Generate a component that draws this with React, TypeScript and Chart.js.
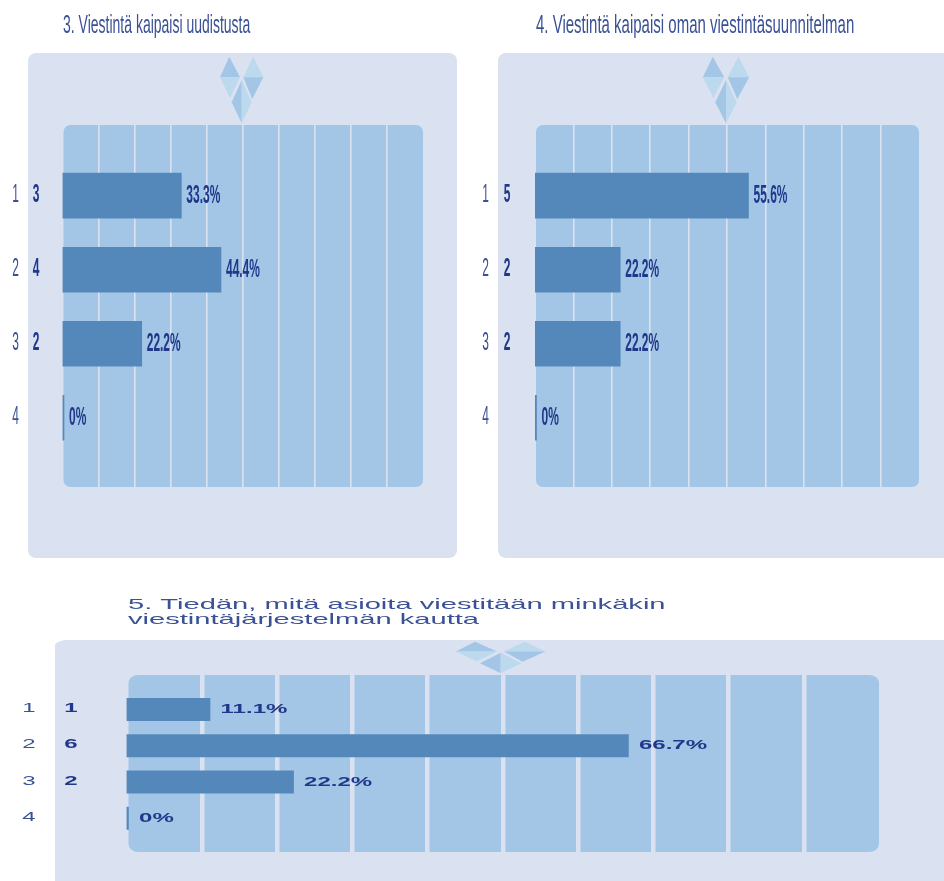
import React, { useEffect, useRef } from "react";
import { Chart, registerables } from "chart.js";

Chart.register(...registerables);

const rows = [1, 2, 3, 4];

const countsQ3 = [3, 4, 2, 0];
const percentQ3 = [33.3, 44.4, 22.2, 0];
const titleQ3 = ["3. Viestintä kaipaisi uudistusta"];

const countsQ4 = [5, 2, 2, 0];
const percentQ4 = [55.6, 22.2, 22.2, 0];
const titleQ4 = ["4. Viestintä kaipaisi oman viestintäsuunnitelman"];

const countsQ5 = [1, 6, 2, 0];
const percentQ5 = [11.1, 66.7, 22.2, 0];
const titleQ5 = ["5. Tiedän, mitä asioita viestitään minkäkin", "viestintäjärjestelmän kautta"];

const PAGE_W = 944;
const PAGE_H = 881;
const FONT = '"Liberation Sans"';
const PANEL = "#DAE1F0";
const PLOT = "#A3C6E7";
const BAR = "#5488BA";
const INK = "#21388A";
const INK_SOFT = "#3A5196";

type Card = {
  counts: number[];
  percent: number[];
  title: string[];
  panel: [number, number, number, number];
  panelRadius: { x: number; y: number };
  area: { left: number; right: number; top: number; bottom: number };
  plotInset: number;
  plotRadius: { x: number; y: number };
  barMax: number;
  barThickness: number;
  gridWidth: number;
  minBar: number;
  titleX: number;
  titleY: number;
  titleFont: string;
  titleScale: number;
  titleLead: number;
  rowX: number;
  countX: number;
  labelGap: number;
  labelSize: number;
  labelScale: number;
  percentShift: number;
  gem: { cx: number; top: number; sx: number; sy: number };
};

const narrow = {
  panelRadius: { x: 8, y: 8 },
  plotRadius: { x: 7, y: 7 },
  plotInset: 1,
  barThickness: 45,
  gridWidth: 1.6,
  minBar: 1.5,
  titleY: 26,
  titleFont: `25px ${FONT}`,
  titleLead: 0,
  labelGap: 5,
  labelSize: 26,
  labelScale: 0.46,
  percentShift: 0.5,
};

const cards: Card[] = [
  {
    ...narrow,
    counts: countsQ3,
    percent: percentQ3,
    title: titleQ3,
    panel: [28, 53, 429, 505],
    area: { left: 62.5, right: 423, top: 125, bottom: 487 },
    barMax: 101,
    titleX: 63,
    titleScale: 0.56,
    rowX: 15.5,
    countX: 36,
    gem: { cx: 241.7, top: 56.7, sx: 1, sy: 1 },
  },
  {
    ...narrow,
    counts: countsQ4,
    percent: percentQ4,
    title: titleQ4,
    panel: [498, 53, 470, 505],
    area: { left: 535, right: 919, top: 125, bottom: 487 },
    barMax: 100,
    titleX: 536,
    titleScale: 0.6,
    rowX: 485.5,
    countX: 507,
    gem: { cx: 726, top: 56.7, sx: 1.07, sy: 1 },
  },
  {
    counts: countsQ5,
    percent: percentQ5,
    title: titleQ5,
    panel: [55, 640, 910, 270],
    panelRadius: { x: 12, y: 6 },
    area: { left: 126.5, right: 879, top: 675, bottom: 852 },
    barMax: 100,
    plotInset: 2,
    plotRadius: { x: 10, y: 8 },
    barThickness: 22.4,
    gridWidth: 4.5,
    minBar: 2,
    titleX: 128,
    titleY: 605,
    titleFont: `15px ${FONT}`,
    titleScale: 1.94,
    titleLead: 15,
    rowX: 29,
    countX: 71,
    labelGap: 10.5,
    labelSize: 13,
    labelScale: 1.85,
    percentShift: 0,
    gem: { cx: 500.7, top: 641.7, sx: 2.07, sy: 0.475 },
  },
];

// Draws one run of text squeezed or widened along x only.
function stretchedText(
  ctx: CanvasRenderingContext2D,
  text: string,
  x: number,
  y: number,
  font: string,
  color: string,
  sx: number,
  align: CanvasTextAlign = "left",
) {
  ctx.save();
  ctx.translate(x, y);
  ctx.scale(sx, 1);
  ctx.font = font;
  ctx.fillStyle = color;
  ctx.textAlign = align;
  ctx.textBaseline = "middle";
  ctx.fillText(text, 0, 0);
  ctx.restore();
}

function polygon(ctx: CanvasRenderingContext2D, pts: number[][], fill: string) {
  ctx.beginPath();
  pts.forEach(([x, y], i) => (i ? ctx.lineTo(x, y) : ctx.moveTo(x, y)));
  ctx.closePath();
  ctx.fillStyle = fill;
  ctx.fill();
}

// The three-faceted emblem at the top of each panel.
function drawEmblem(ctx: CanvasRenderingContext2D, gem: Card["gem"]) {
  const p = (x: number, y: number) => [gem.cx + x * gem.sx, gem.top + y * gem.sy];
  const deep = "#A3C6E7";
  const pale = "#BCD9EE";
  polygon(ctx, [p(-12.4, 0), p(-1.7, 20.6), p(-21.7, 20.6)], deep);
  polygon(ctx, [p(-21.7, 20.6), p(-1.7, 20.6), p(-11.7, 41.3)], pale);
  polygon(ctx, [p(11.6, 0), p(21.6, 20.6), p(1.6, 20.6)], pale);
  polygon(ctx, [p(1.6, 20.6), p(21.6, 20.6), p(10.6, 42.3)], deep);
  polygon(ctx, [p(0, 23.3), p(0, 66.6), p(-10, 45.6)], deep);
  polygon(ctx, [p(0, 23.3), p(10, 45.6), p(0, 66.6)], pale);
}

function makeChart(canvas: HTMLCanvasElement, card: Card) {
  const { area } = card;
  const backdrop = {
    id: "backdrop",
    beforeDraw(chart: Chart) {
      const ctx = chart.ctx;
      const [x, y, w, h] = card.panel;
      ctx.save();
      ctx.fillStyle = PANEL;
      ctx.beginPath();
      ctx.roundRect(x, y, w, h, [card.panelRadius]);
      ctx.fill();
      drawEmblem(ctx, card.gem);
      const a = chart.chartArea;
      ctx.fillStyle = PLOT;
      ctx.beginPath();
      ctx.roundRect(a.left + card.plotInset, a.top, a.width - card.plotInset, a.height, [card.plotRadius]);
      ctx.fill();
      ctx.restore();
      card.title.forEach((line, i) =>
        stretchedText(ctx, line, card.titleX, card.titleY + i * card.titleLead, card.titleFont, INK_SOFT, card.titleScale),
      );
    },
  };
  const annotations = {
    id: "annotations",
    afterDatasetsDraw(chart: Chart) {
      const ctx = chart.ctx;
      const bars = chart.getDatasetMeta(0).data;
      const regular = `${card.labelSize}px ${FONT}`;
      const bold = `bold ${card.labelSize}px ${FONT}`;
      bars.forEach((bar: any, i: number) => {
        const y = bar.y - 1;
        stretchedText(ctx, String(rows[i]), card.rowX, y, regular, INK_SOFT, card.labelScale, "center");
        if (card.counts[i]) {
          stretchedText(ctx, String(card.counts[i]), card.countX, y, bold, INK, card.labelScale, "center");
        }
        stretchedText(ctx, `${card.percent[i]}%`, bar.x + card.labelGap, bar.y + card.percentShift, bold, INK, card.labelScale);
      });
    },
  };
  return new Chart(canvas, {
    type: "bar",
    data: {
      datasets: [
        {
          data: card.percent.map((v, i) => ({ x: v, y: rows[i] })),
          backgroundColor: BAR,
          barThickness: card.barThickness,
          minBarLength: card.minBar,
        },
      ],
    },
    options: {
      indexAxis: "y",
      animation: false,
      responsive: false,
      layout: {
        padding: {
          left: area.left,
          right: PAGE_W - area.right,
          top: area.top,
          bottom: PAGE_H - area.bottom,
        },
      },
      plugins: { legend: { display: false }, tooltip: { enabled: false }, title: { display: false } },
      scales: {
        x: {
          type: "linear",
          display: false,
          min: 0,
          max: card.barMax,
        },
        // Ten equal columns behind the bars, on their own axis.
        columns: {
          type: "linear",
          axis: "x",
          position: "bottom",
          min: 0,
          max: 10,
          ticks: { stepSize: 1, display: false },
          border: { display: false },
          grid: {
            drawTicks: false,
            lineWidth: card.gridWidth,
            color: (c: any) => (c.tick && c.tick.value % 10 === 0 ? "transparent" : PANEL),
          },
        },
        y: {
          type: "linear",
          display: false,
          reverse: true,
          offset: false,
          min: 0.045,
          max: 4.935,
          ticks: { stepSize: 1 },
        },
      },
    },
    plugins: [backdrop, annotations],
  } as any);
}

function ChartCard({ card }: { card: Card }) {
  const ref = useRef<HTMLCanvasElement>(null);
  useEffect(() => {
    const chart = makeChart(ref.current as HTMLCanvasElement, card);
    return () => chart.destroy();
  }, [card]);
  return (
    <canvas
      ref={ref}
      width={PAGE_W}
      height={PAGE_H}
      style={{ position: "absolute", left: 0, top: 0, width: PAGE_W, height: PAGE_H }}
    />
  );
}

export default function App() {
  return (
    <div style={{ position: "absolute", left: 0, top: 0, width: PAGE_W, height: PAGE_H, overflow: "hidden", background: "#fff" }}>
      {cards.map((card, i) => (
        <ChartCard key={i} card={card} />
      ))}
    </div>
  );
}
